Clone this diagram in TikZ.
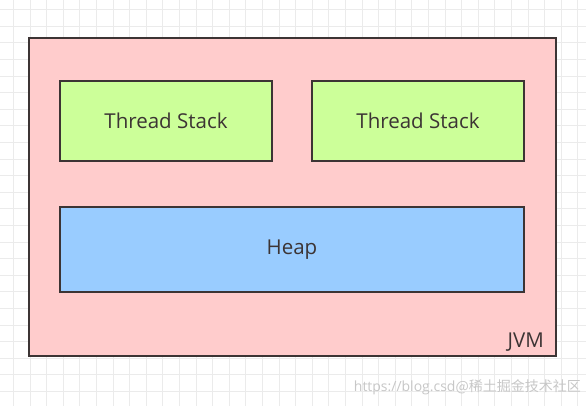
\documentclass[tikz,border=0pt]{standalone}
\usepackage{fontspec}
\setmainfont{Open Sans}
\newfontfamily\cjkfont{Noto Sans CJK SC}
\usetikzlibrary{positioning}
\definecolor{gridcol}{gray}{0.92}
\definecolor{edgecol}{RGB}{60,52,52}
\definecolor{jvmfill}{RGB}{255,204,204}
\definecolor{stackfill}{RGB}{204,255,153}
\definecolor{heapfill}{RGB}{153,204,255}
\tikzset{
  area/.style={draw=edgecol,line width=1.7pt,rectangle,anchor=north west,inner sep=0pt,outer sep=0pt},
  stackbox/.style={area,fill=stackfill,minimum width=212pt,minimum height=80pt,font=\fontsize{20.5}{24}\selectfont,text=edgecol},
  heapbox/.style={area,fill=heapfill,minimum width=464pt,minimum height=85pt,font=\fontsize{20.5}{24}\selectfont,text=edgecol},
  jvmtag/.style={font=\fontsize{20.5}{24}\selectfont,text=edgecol,inner sep=0pt},
}

\begin{document}
\begin{tikzpicture}[x=1pt,y=-1pt]
  \useasboundingbox (0,0) rectangle (586,406);
  \fill[white] (0,0) rectangle (586,406);
  % background grid
  \foreach \gx in {0,...,34} \draw[gridcol,line width=0.6pt] (13.3+16.6*\gx,0) -- (13.3+16.6*\gx,406);
  \foreach \gy in {0,...,24} \draw[gridcol,line width=0.6pt] (0,9.5+16.6*\gy) -- (586,9.5+16.6*\gy);
  % jvm
  \node[area,fill=jvmfill,minimum width=527pt,minimum height=318pt] (jvm) at (29,38) {};
  \node[stackbox] (stackA) at (60,81) {Thread Stack};
  \node[stackbox,right=40pt of stackA.north east,anchor=north west] (stackB) {Thread Stack};
  \node[heapbox,below=46pt of stackA.south west,anchor=north west] (heap) {Heap};
  \node[jvmtag,anchor=south east] (jvmlab) at ([xshift=-12pt,yshift=4pt]jvm.south east) {JVM};
  % watermark
  \node[font=\fontsize{14}{16}\selectfont,text=black!22,anchor=east,inner sep=0pt] (wmark) at (581,387) {https://blog.csd{\cjkfont @稀土掘金技术社区}};
\end{tikzpicture}
\end{document}
